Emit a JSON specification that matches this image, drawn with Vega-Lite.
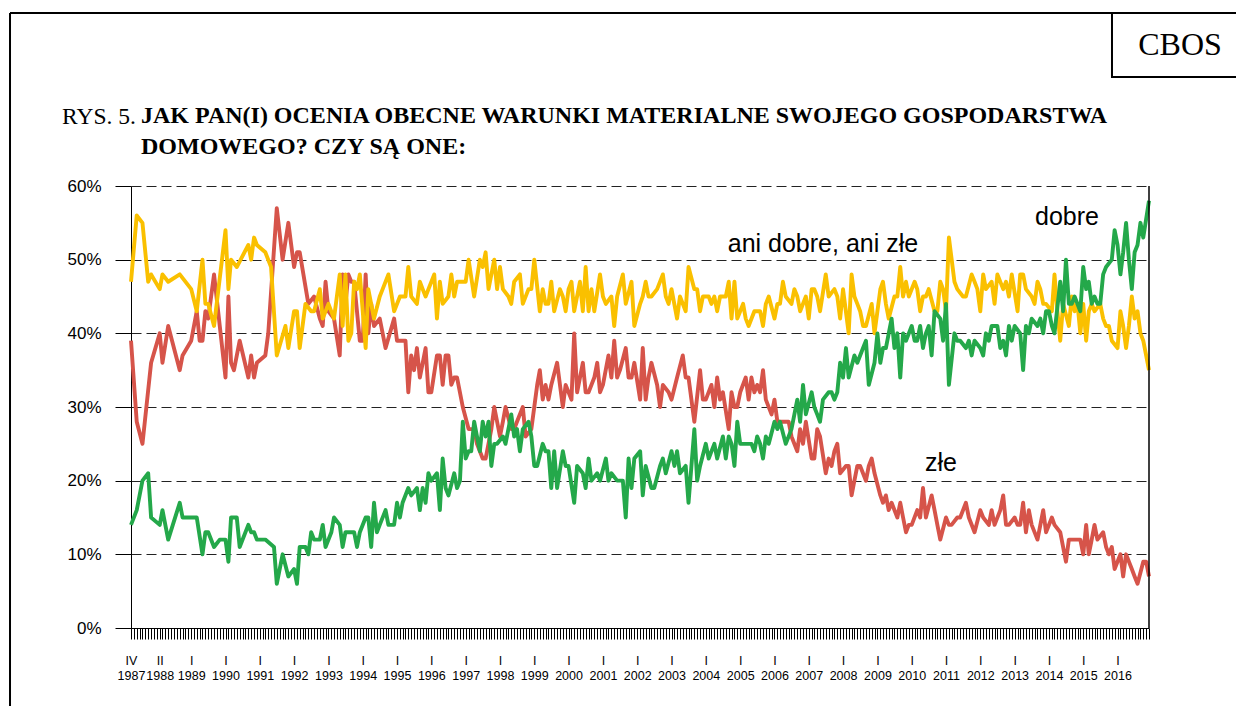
{
  "$schema": "https://vega.github.io/schema/vega-lite/v6.json",
  "width": 1018,
  "height": 442,
  "autosize": {"type": "none"},
  "padding": {"left": 131, "top": 186, "right": 87, "bottom": 78},
  "background": "white",
  "title": {
    "text": ["JAK PAN(I) OCENIA OBECNE WARUNKI MATERIALNE SWOJEGO GOSPODARSTWA", "DOMOWEGO? CZY SĄ ONE:"],
    "anchor": "start",
    "frame": "group",
    "dx": 10,
    "offset": -147,
    "font": "Liberation Serif",
    "fontSize": 24,
    "fontWeight": "bold",
    "color": "black",
    "lineHeight": 31
  },
  "config": {"view": {"stroke": null}, "font": "Liberation Sans"},
  "data": {"values": [
    {"date":"1987-04","series":"złe","value":39},{"date":"1987-06","series":"złe","value":28},{"date":"1987-08","series":"złe","value":25},{"date":"1987-11","series":"złe","value":36},{"date":"1988-02","series":"złe","value":40},{"date":"1988-03","series":"złe","value":36},{"date":"1988-05","series":"złe","value":41},{"date":"1988-09","series":"złe","value":35},{"date":"1988-10","series":"złe","value":37},
    {"date":"1989-01","series":"złe","value":39},{"date":"1989-03","series":"złe","value":43},{"date":"1989-04","series":"złe","value":39},{"date":"1989-05","series":"złe","value":39},{"date":"1989-06","series":"złe","value":43},{"date":"1989-07","series":"złe","value":42},{"date":"1989-09","series":"złe","value":48},{"date":"1989-11","series":"złe","value":41},
    {"date":"1990-01","series":"złe","value":34},{"date":"1990-02","series":"złe","value":45},{"date":"1990-03","series":"złe","value":36},{"date":"1990-04","series":"złe","value":35},{"date":"1990-06","series":"złe","value":39},{"date":"1990-09","series":"złe","value":34},{"date":"1990-10","series":"złe","value":37},{"date":"1990-11","series":"złe","value":34},{"date":"1990-12","series":"złe","value":36},
    {"date":"1991-03","series":"złe","value":37},{"date":"1991-04","series":"złe","value":40},{"date":"1991-07","series":"złe","value":57},{"date":"1991-09","series":"złe","value":50},{"date":"1991-11","series":"złe","value":55},
    {"date":"1992-01","series":"złe","value":49},{"date":"1992-02","series":"złe","value":51},{"date":"1992-03","series":"złe","value":51},{"date":"1992-06","series":"złe","value":44},{"date":"1992-08","series":"złe","value":45},{"date":"1992-10","series":"złe","value":42},{"date":"1992-11","series":"złe","value":41},{"date":"1992-12","series":"złe","value":47},
    {"date":"1993-01","series":"złe","value":43},{"date":"1993-03","series":"złe","value":42},{"date":"1993-05","series":"złe","value":37},{"date":"1993-06","series":"złe","value":48},{"date":"1993-07","series":"złe","value":44},{"date":"1993-08","series":"złe","value":48},{"date":"1993-09","series":"złe","value":47},{"date":"1993-10","series":"złe","value":47},{"date":"1993-12","series":"złe","value":39},
    {"date":"1994-01","series":"złe","value":39},{"date":"1994-02","series":"złe","value":48},{"date":"1994-03","series":"złe","value":40},{"date":"1994-04","series":"złe","value":44},{"date":"1994-05","series":"złe","value":41},{"date":"1994-07","series":"złe","value":42},{"date":"1994-09","series":"złe","value":38},{"date":"1994-12","series":"złe","value":42},
    {"date":"1995-01","series":"złe","value":39},{"date":"1995-04","series":"złe","value":39},{"date":"1995-05","series":"złe","value":32},{"date":"1995-06","series":"złe","value":37},{"date":"1995-07","series":"złe","value":35},{"date":"1995-08","series":"złe","value":38},{"date":"1995-09","series":"złe","value":34},{"date":"1995-11","series":"złe","value":38},{"date":"1995-12","series":"złe","value":32},
    {"date":"1996-01","series":"złe","value":32},{"date":"1996-03","series":"złe","value":37},{"date":"1996-04","series":"złe","value":37},{"date":"1996-05","series":"złe","value":33},{"date":"1996-06","series":"złe","value":37},{"date":"1996-07","series":"złe","value":37},{"date":"1996-08","series":"złe","value":33},{"date":"1996-09","series":"złe","value":34},{"date":"1996-10","series":"złe","value":34},{"date":"1996-12","series":"złe","value":30},
    {"date":"1997-02","series":"złe","value":27},{"date":"1997-03","series":"złe","value":27},{"date":"1997-04","series":"złe","value":27},{"date":"1997-05","series":"złe","value":25},{"date":"1997-07","series":"złe","value":23},{"date":"1997-08","series":"złe","value":23},{"date":"1997-10","series":"złe","value":27},{"date":"1997-11","series":"złe","value":30},
    {"date":"1998-01","series":"złe","value":26},{"date":"1998-02","series":"złe","value":28},{"date":"1998-03","series":"złe","value":30},{"date":"1998-05","series":"złe","value":27},{"date":"1998-06","series":"złe","value":27},{"date":"1998-07","series":"złe","value":28},{"date":"1998-09","series":"złe","value":30},{"date":"1998-10","series":"złe","value":26},{"date":"1998-12","series":"złe","value":27},
    {"date":"1999-01","series":"złe","value":30},{"date":"1999-02","series":"złe","value":33},{"date":"1999-03","series":"złe","value":35},{"date":"1999-04","series":"złe","value":31},{"date":"1999-05","series":"złe","value":33},{"date":"1999-06","series":"złe","value":31},{"date":"1999-07","series":"złe","value":33},{"date":"1999-09","series":"złe","value":36},{"date":"1999-11","series":"złe","value":30},{"date":"1999-12","series":"złe","value":33},
    {"date":"2000-01","series":"złe","value":32},{"date":"2000-02","series":"złe","value":31},{"date":"2000-03","series":"złe","value":40},{"date":"2000-04","series":"złe","value":32},{"date":"2000-06","series":"złe","value":36},{"date":"2000-07","series":"złe","value":32},{"date":"2000-08","series":"złe","value":32},{"date":"2000-10","series":"złe","value":34},{"date":"2000-11","series":"złe","value":36},{"date":"2000-12","series":"złe","value":32},
    {"date":"2001-01","series":"złe","value":33},{"date":"2001-03","series":"złe","value":37},{"date":"2001-04","series":"złe","value":34},{"date":"2001-05","series":"złe","value":39},{"date":"2001-06","series":"złe","value":34},{"date":"2001-07","series":"złe","value":35},{"date":"2001-09","series":"złe","value":38},{"date":"2001-10","series":"złe","value":34},{"date":"2001-11","series":"złe","value":34},{"date":"2001-12","series":"złe","value":36},
    {"date":"2002-02","series":"złe","value":31},{"date":"2002-03","series":"złe","value":38},{"date":"2002-04","series":"złe","value":31},{"date":"2002-05","series":"złe","value":34},{"date":"2002-06","series":"złe","value":36},{"date":"2002-08","series":"złe","value":33},{"date":"2002-09","series":"złe","value":30},{"date":"2002-10","series":"złe","value":33},{"date":"2002-12","series":"złe","value":32},
    {"date":"2003-01","series":"złe","value":31},{"date":"2003-03","series":"złe","value":34},{"date":"2003-05","series":"złe","value":37},{"date":"2003-06","series":"złe","value":34},{"date":"2003-07","series":"złe","value":34},{"date":"2003-09","series":"złe","value":28},{"date":"2003-11","series":"złe","value":35},{"date":"2003-12","series":"złe","value":31},
    {"date":"2004-01","series":"złe","value":31},{"date":"2004-03","series":"złe","value":33},{"date":"2004-04","series":"złe","value":30},{"date":"2004-05","series":"złe","value":34},{"date":"2004-06","series":"złe","value":31},{"date":"2004-07","series":"złe","value":32},{"date":"2004-09","series":"złe","value":27},{"date":"2004-10","series":"złe","value":32},{"date":"2004-11","series":"złe","value":30},{"date":"2004-12","series":"złe","value":30},
    {"date":"2005-01","series":"złe","value":32},{"date":"2005-03","series":"złe","value":34},{"date":"2005-04","series":"złe","value":31},{"date":"2005-05","series":"złe","value":34},{"date":"2005-06","series":"złe","value":32},{"date":"2005-07","series":"złe","value":33},{"date":"2005-08","series":"złe","value":32},{"date":"2005-09","series":"złe","value":35},{"date":"2005-10","series":"złe","value":31},{"date":"2005-12","series":"złe","value":29},
    {"date":"2006-01","series":"złe","value":31},{"date":"2006-02","series":"złe","value":28},{"date":"2006-03","series":"złe","value":28},{"date":"2006-06","series":"złe","value":28},{"date":"2006-07","series":"złe","value":26},{"date":"2006-09","series":"złe","value":24},{"date":"2006-10","series":"złe","value":27},{"date":"2006-11","series":"złe","value":25},{"date":"2006-12","series":"złe","value":28},
    {"date":"2007-02","series":"złe","value":23},{"date":"2007-03","series":"złe","value":23},{"date":"2007-04","series":"złe","value":27},{"date":"2007-05","series":"złe","value":26},{"date":"2007-07","series":"złe","value":21},{"date":"2007-08","series":"złe","value":23},{"date":"2007-09","series":"złe","value":22},{"date":"2007-10","series":"złe","value":24},{"date":"2007-11","series":"złe","value":25},{"date":"2007-12","series":"złe","value":21},
    {"date":"2008-02","series":"złe","value":22},{"date":"2008-03","series":"złe","value":22},{"date":"2008-04","series":"złe","value":18},{"date":"2008-05","series":"złe","value":20},{"date":"2008-06","series":"złe","value":22},{"date":"2008-07","series":"złe","value":22},{"date":"2008-09","series":"złe","value":20},{"date":"2008-10","series":"złe","value":22},{"date":"2008-11","series":"złe","value":23},{"date":"2008-12","series":"złe","value":21},
    {"date":"2009-02","series":"złe","value":18},{"date":"2009-03","series":"złe","value":17},{"date":"2009-04","series":"złe","value":18},{"date":"2009-05","series":"złe","value":16},{"date":"2009-06","series":"złe","value":17},{"date":"2009-08","series":"złe","value":15},{"date":"2009-09","series":"złe","value":17},{"date":"2009-10","series":"złe","value":15},{"date":"2009-11","series":"złe","value":13},{"date":"2009-12","series":"złe","value":14},
    {"date":"2010-01","series":"złe","value":14},{"date":"2010-03","series":"złe","value":16},{"date":"2010-04","series":"złe","value":15},{"date":"2010-05","series":"złe","value":19},{"date":"2010-06","series":"złe","value":15},{"date":"2010-08","series":"złe","value":18},{"date":"2010-09","series":"złe","value":16},{"date":"2010-10","series":"złe","value":14},{"date":"2010-11","series":"złe","value":12},
    {"date":"2011-01","series":"złe","value":15},{"date":"2011-02","series":"złe","value":14},{"date":"2011-03","series":"złe","value":14},{"date":"2011-05","series":"złe","value":15},{"date":"2011-06","series":"złe","value":15},{"date":"2011-08","series":"złe","value":17},{"date":"2011-09","series":"złe","value":15},{"date":"2011-11","series":"złe","value":13},
    {"date":"2012-01","series":"złe","value":16},{"date":"2012-02","series":"złe","value":15},{"date":"2012-04","series":"złe","value":14},{"date":"2012-05","series":"złe","value":16},{"date":"2012-06","series":"złe","value":14},{"date":"2012-08","series":"złe","value":16},{"date":"2012-09","series":"złe","value":18},{"date":"2012-10","series":"złe","value":14},{"date":"2012-11","series":"złe","value":14},
    {"date":"2013-01","series":"złe","value":15},{"date":"2013-02","series":"złe","value":14},{"date":"2013-03","series":"złe","value":14},{"date":"2013-04","series":"złe","value":17},{"date":"2013-05","series":"złe","value":13},{"date":"2013-06","series":"złe","value":16},{"date":"2013-07","series":"złe","value":14},{"date":"2013-09","series":"złe","value":12},{"date":"2013-11","series":"złe","value":16},{"date":"2013-12","series":"złe","value":13},
    {"date":"2014-02","series":"złe","value":15},{"date":"2014-03","series":"złe","value":14},{"date":"2014-05","series":"złe","value":13},{"date":"2014-07","series":"złe","value":9},{"date":"2014-08","series":"złe","value":12},{"date":"2014-10","series":"złe","value":12},{"date":"2014-12","series":"złe","value":12},
    {"date":"2015-01","series":"złe","value":10},{"date":"2015-02","series":"złe","value":14},{"date":"2015-03","series":"złe","value":10},{"date":"2015-04","series":"złe","value":12},{"date":"2015-05","series":"złe","value":14},{"date":"2015-06","series":"złe","value":12},{"date":"2015-08","series":"złe","value":13},{"date":"2015-09","series":"złe","value":11},{"date":"2015-10","series":"złe","value":10},{"date":"2015-11","series":"złe","value":11},{"date":"2015-12","series":"złe","value":8},
    {"date":"2016-02","series":"złe","value":10},{"date":"2016-03","series":"złe","value":7},{"date":"2016-04","series":"złe","value":10},{"date":"2016-06","series":"złe","value":8},{"date":"2016-07","series":"złe","value":7},{"date":"2016-08","series":"złe","value":6},{"date":"2016-10","series":"złe","value":9},{"date":"2016-11","series":"złe","value":9},{"date":"2016-12","series":"złe","value":7},

    {"date":"1987-04","series":"ani dobre, ani złe","value":47},{"date":"1987-06","series":"ani dobre, ani złe","value":56},{"date":"1987-08","series":"ani dobre, ani złe","value":55},{"date":"1987-10","series":"ani dobre, ani złe","value":47},{"date":"1987-11","series":"ani dobre, ani złe","value":48},{"date":"1988-02","series":"ani dobre, ani złe","value":46},{"date":"1988-03","series":"ani dobre, ani złe","value":48},{"date":"1988-05","series":"ani dobre, ani złe","value":47},{"date":"1988-09","series":"ani dobre, ani złe","value":48},
    {"date":"1989-01","series":"ani dobre, ani złe","value":46},{"date":"1989-03","series":"ani dobre, ani złe","value":43},{"date":"1989-05","series":"ani dobre, ani złe","value":50},{"date":"1989-06","series":"ani dobre, ani złe","value":44},{"date":"1989-07","series":"ani dobre, ani złe","value":44},{"date":"1989-09","series":"ani dobre, ani złe","value":41},
    {"date":"1990-01","series":"ani dobre, ani złe","value":54},{"date":"1990-02","series":"ani dobre, ani złe","value":46},{"date":"1990-03","series":"ani dobre, ani złe","value":50},{"date":"1990-05","series":"ani dobre, ani złe","value":49},{"date":"1990-09","series":"ani dobre, ani złe","value":52},{"date":"1990-10","series":"ani dobre, ani złe","value":50},{"date":"1990-11","series":"ani dobre, ani złe","value":53},{"date":"1990-12","series":"ani dobre, ani złe","value":52},
    {"date":"1991-03","series":"ani dobre, ani złe","value":51},{"date":"1991-05","series":"ani dobre, ani złe","value":49},{"date":"1991-07","series":"ani dobre, ani złe","value":37},{"date":"1991-10","series":"ani dobre, ani złe","value":41},{"date":"1991-11","series":"ani dobre, ani złe","value":38},
    {"date":"1992-01","series":"ani dobre, ani złe","value":43},{"date":"1992-02","series":"ani dobre, ani złe","value":43},{"date":"1992-03","series":"ani dobre, ani złe","value":38},{"date":"1992-05","series":"ani dobre, ani złe","value":44},{"date":"1992-07","series":"ani dobre, ani złe","value":43},{"date":"1992-08","series":"ani dobre, ani złe","value":43},{"date":"1992-10","series":"ani dobre, ani złe","value":46},{"date":"1992-11","series":"ani dobre, ani złe","value":42},
    {"date":"1993-01","series":"ani dobre, ani złe","value":44},{"date":"1993-03","series":"ani dobre, ani złe","value":42},{"date":"1993-05","series":"ani dobre, ani złe","value":48},{"date":"1993-06","series":"ani dobre, ani złe","value":41},{"date":"1993-07","series":"ani dobre, ani złe","value":48},{"date":"1993-08","series":"ani dobre, ani złe","value":39},{"date":"1993-09","series":"ani dobre, ani złe","value":40},{"date":"1993-10","series":"ani dobre, ani złe","value":47},{"date":"1993-11","series":"ani dobre, ani złe","value":46},{"date":"1993-12","series":"ani dobre, ani złe","value":48},
    {"date":"1994-02","series":"ani dobre, ani złe","value":38},{"date":"1994-03","series":"ani dobre, ani złe","value":46},{"date":"1994-05","series":"ani dobre, ani złe","value":42},{"date":"1994-07","series":"ani dobre, ani złe","value":45},{"date":"1994-08","series":"ani dobre, ani złe","value":46},{"date":"1994-10","series":"ani dobre, ani złe","value":48},{"date":"1994-12","series":"ani dobre, ani złe","value":43},
    {"date":"1995-02","series":"ani dobre, ani złe","value":45},{"date":"1995-04","series":"ani dobre, ani złe","value":45},{"date":"1995-05","series":"ani dobre, ani złe","value":49},{"date":"1995-06","series":"ani dobre, ani złe","value":45},{"date":"1995-08","series":"ani dobre, ani złe","value":44},{"date":"1995-09","series":"ani dobre, ani złe","value":47},{"date":"1995-10","series":"ani dobre, ani złe","value":46},{"date":"1995-11","series":"ani dobre, ani złe","value":45},
    {"date":"1996-02","series":"ani dobre, ani złe","value":48},{"date":"1996-03","series":"ani dobre, ani złe","value":42},{"date":"1996-04","series":"ani dobre, ani złe","value":47},{"date":"1996-05","series":"ani dobre, ani złe","value":44},{"date":"1996-07","series":"ani dobre, ani złe","value":45},{"date":"1996-08","series":"ani dobre, ani złe","value":48},{"date":"1996-09","series":"ani dobre, ani złe","value":45},{"date":"1996-10","series":"ani dobre, ani złe","value":47},
    {"date":"1997-01","series":"ani dobre, ani złe","value":47},{"date":"1997-02","series":"ani dobre, ani złe","value":50},{"date":"1997-04","series":"ani dobre, ani złe","value":45},{"date":"1997-06","series":"ani dobre, ani złe","value":50},{"date":"1997-07","series":"ani dobre, ani złe","value":49},{"date":"1997-08","series":"ani dobre, ani złe","value":51},{"date":"1997-09","series":"ani dobre, ani złe","value":46},{"date":"1997-11","series":"ani dobre, ani złe","value":50},{"date":"1997-12","series":"ani dobre, ani złe","value":46},
    {"date":"1998-01","series":"ani dobre, ani złe","value":49},{"date":"1998-02","series":"ani dobre, ani złe","value":46},{"date":"1998-04","series":"ani dobre, ani złe","value":45},{"date":"1998-05","series":"ani dobre, ani złe","value":44},{"date":"1998-06","series":"ani dobre, ani złe","value":47},{"date":"1998-08","series":"ani dobre, ani złe","value":48},{"date":"1998-09","series":"ani dobre, ani złe","value":44},{"date":"1998-11","series":"ani dobre, ani złe","value":46},{"date":"1998-12","series":"ani dobre, ani złe","value":46},
    {"date":"1999-01","series":"ani dobre, ani złe","value":50},{"date":"1999-03","series":"ani dobre, ani złe","value":43},{"date":"1999-04","series":"ani dobre, ani złe","value":46},{"date":"1999-05","series":"ani dobre, ani złe","value":44},{"date":"1999-06","series":"ani dobre, ani złe","value":44},{"date":"1999-07","series":"ani dobre, ani złe","value":47},{"date":"1999-08","series":"ani dobre, ani złe","value":43},{"date":"1999-10","series":"ani dobre, ani złe","value":46},{"date":"1999-11","series":"ani dobre, ani złe","value":45},{"date":"1999-12","series":"ani dobre, ani złe","value":43},
    {"date":"2000-01","series":"ani dobre, ani złe","value":46},{"date":"2000-02","series":"ani dobre, ani złe","value":47},{"date":"2000-03","series":"ani dobre, ani złe","value":43},{"date":"2000-05","series":"ani dobre, ani złe","value":47},{"date":"2000-06","series":"ani dobre, ani złe","value":43},{"date":"2000-07","series":"ani dobre, ani złe","value":49},{"date":"2000-08","series":"ani dobre, ani złe","value":43},{"date":"2000-09","series":"ani dobre, ani złe","value":46},{"date":"2000-10","series":"ani dobre, ani złe","value":43},{"date":"2000-12","series":"ani dobre, ani złe","value":48},
    {"date":"2001-01","series":"ani dobre, ani złe","value":45},{"date":"2001-02","series":"ani dobre, ani złe","value":44},{"date":"2001-04","series":"ani dobre, ani złe","value":45},{"date":"2001-05","series":"ani dobre, ani złe","value":41},{"date":"2001-06","series":"ani dobre, ani złe","value":45},{"date":"2001-08","series":"ani dobre, ani złe","value":48},{"date":"2001-09","series":"ani dobre, ani złe","value":44},{"date":"2001-11","series":"ani dobre, ani złe","value":47},{"date":"2001-12","series":"ani dobre, ani złe","value":41},
    {"date":"2002-02","series":"ani dobre, ani złe","value":44},{"date":"2002-03","series":"ani dobre, ani złe","value":45},{"date":"2002-04","series":"ani dobre, ani złe","value":47},{"date":"2002-05","series":"ani dobre, ani złe","value":45},{"date":"2002-06","series":"ani dobre, ani złe","value":45},{"date":"2002-08","series":"ani dobre, ani złe","value":46},{"date":"2002-10","series":"ani dobre, ani złe","value":48},{"date":"2002-11","series":"ani dobre, ani złe","value":45},{"date":"2002-12","series":"ani dobre, ani złe","value":44},
    {"date":"2003-01","series":"ani dobre, ani złe","value":46},{"date":"2003-03","series":"ani dobre, ani złe","value":42},{"date":"2003-04","series":"ani dobre, ani złe","value":45},{"date":"2003-06","series":"ani dobre, ani złe","value":43},{"date":"2003-07","series":"ani dobre, ani złe","value":49},{"date":"2003-09","series":"ani dobre, ani złe","value":46},{"date":"2003-10","series":"ani dobre, ani złe","value":46},{"date":"2003-11","series":"ani dobre, ani złe","value":43},{"date":"2003-12","series":"ani dobre, ani złe","value":45},
    {"date":"2004-02","series":"ani dobre, ani złe","value":45},{"date":"2004-03","series":"ani dobre, ani złe","value":44},{"date":"2004-04","series":"ani dobre, ani złe","value":45},{"date":"2004-05","series":"ani dobre, ani złe","value":43},{"date":"2004-06","series":"ani dobre, ani złe","value":45},{"date":"2004-08","series":"ani dobre, ani złe","value":45},{"date":"2004-09","series":"ani dobre, ani złe","value":47},{"date":"2004-10","series":"ani dobre, ani złe","value":42},{"date":"2004-11","series":"ani dobre, ani złe","value":47},{"date":"2004-12","series":"ani dobre, ani złe","value":42},
    {"date":"2005-01","series":"ani dobre, ani złe","value":43},{"date":"2005-02","series":"ani dobre, ani złe","value":44},{"date":"2005-03","series":"ani dobre, ani złe","value":42},{"date":"2005-04","series":"ani dobre, ani złe","value":41},{"date":"2005-06","series":"ani dobre, ani złe","value":43},{"date":"2005-07","series":"ani dobre, ani złe","value":43},{"date":"2005-08","series":"ani dobre, ani złe","value":43},{"date":"2005-09","series":"ani dobre, ani złe","value":41},{"date":"2005-10","series":"ani dobre, ani złe","value":44},{"date":"2005-11","series":"ani dobre, ani złe","value":45},
    {"date":"2006-01","series":"ani dobre, ani złe","value":42},{"date":"2006-02","series":"ani dobre, ani złe","value":44},{"date":"2006-03","series":"ani dobre, ani złe","value":44},{"date":"2006-04","series":"ani dobre, ani złe","value":47},{"date":"2006-05","series":"ani dobre, ani złe","value":45},{"date":"2006-07","series":"ani dobre, ani złe","value":44},{"date":"2006-08","series":"ani dobre, ani złe","value":46},{"date":"2006-09","series":"ani dobre, ani złe","value":45},{"date":"2006-10","series":"ani dobre, ani złe","value":43},{"date":"2006-12","series":"ani dobre, ani złe","value":45},
    {"date":"2007-01","series":"ani dobre, ani złe","value":42},{"date":"2007-02","series":"ani dobre, ani złe","value":46},{"date":"2007-03","series":"ani dobre, ani złe","value":46},{"date":"2007-04","series":"ani dobre, ani złe","value":45},{"date":"2007-05","series":"ani dobre, ani złe","value":43},{"date":"2007-07","series":"ani dobre, ani złe","value":48},{"date":"2007-08","series":"ani dobre, ani złe","value":45},{"date":"2007-10","series":"ani dobre, ani złe","value":46},{"date":"2007-11","series":"ani dobre, ani złe","value":45},{"date":"2007-12","series":"ani dobre, ani złe","value":42},
    {"date":"2008-01","series":"ani dobre, ani złe","value":46},{"date":"2008-03","series":"ani dobre, ani złe","value":40},{"date":"2008-04","series":"ani dobre, ani złe","value":48},{"date":"2008-05","series":"ani dobre, ani złe","value":45},{"date":"2008-06","series":"ani dobre, ani złe","value":44},{"date":"2008-07","series":"ani dobre, ani złe","value":43},{"date":"2008-08","series":"ani dobre, ani złe","value":41},{"date":"2008-09","series":"ani dobre, ani złe","value":41},{"date":"2008-11","series":"ani dobre, ani złe","value":44},{"date":"2008-12","series":"ani dobre, ani złe","value":40},
    {"date":"2009-01","series":"ani dobre, ani złe","value":43},{"date":"2009-02","series":"ani dobre, ani złe","value":46},{"date":"2009-03","series":"ani dobre, ani złe","value":47},{"date":"2009-04","series":"ani dobre, ani złe","value":44},{"date":"2009-05","series":"ani dobre, ani złe","value":42},{"date":"2009-07","series":"ani dobre, ani złe","value":45},{"date":"2009-08","series":"ani dobre, ani złe","value":45},{"date":"2009-09","series":"ani dobre, ani złe","value":49},{"date":"2009-10","series":"ani dobre, ani złe","value":45},{"date":"2009-11","series":"ani dobre, ani złe","value":47},{"date":"2009-12","series":"ani dobre, ani złe","value":45},
    {"date":"2010-02","series":"ani dobre, ani złe","value":47},{"date":"2010-03","series":"ani dobre, ani złe","value":46},{"date":"2010-04","series":"ani dobre, ani złe","value":43},{"date":"2010-05","series":"ani dobre, ani złe","value":45},{"date":"2010-06","series":"ani dobre, ani złe","value":45},{"date":"2010-07","series":"ani dobre, ani złe","value":46},{"date":"2010-09","series":"ani dobre, ani złe","value":43},{"date":"2010-10","series":"ani dobre, ani złe","value":43},{"date":"2010-11","series":"ani dobre, ani złe","value":47},{"date":"2010-12","series":"ani dobre, ani złe","value":46},
    {"date":"2011-01","series":"ani dobre, ani złe","value":43},{"date":"2011-02","series":"ani dobre, ani złe","value":53},{"date":"2011-04","series":"ani dobre, ani złe","value":47},{"date":"2011-05","series":"ani dobre, ani złe","value":46},{"date":"2011-07","series":"ani dobre, ani złe","value":45},{"date":"2011-08","series":"ani dobre, ani złe","value":45},{"date":"2011-10","series":"ani dobre, ani złe","value":48},{"date":"2011-11","series":"ani dobre, ani złe","value":47},{"date":"2011-12","series":"ani dobre, ani złe","value":46},
    {"date":"2012-01","series":"ani dobre, ani złe","value":43},{"date":"2012-02","series":"ani dobre, ani złe","value":48},{"date":"2012-03","series":"ani dobre, ani złe","value":46},{"date":"2012-05","series":"ani dobre, ani złe","value":47},{"date":"2012-06","series":"ani dobre, ani złe","value":44},{"date":"2012-07","series":"ani dobre, ani złe","value":48},{"date":"2012-09","series":"ani dobre, ani złe","value":46},{"date":"2012-10","series":"ani dobre, ani złe","value":47},{"date":"2012-11","series":"ani dobre, ani złe","value":45},{"date":"2012-12","series":"ani dobre, ani złe","value":48},
    {"date":"2013-02","series":"ani dobre, ani złe","value":43},{"date":"2013-03","series":"ani dobre, ani złe","value":48},{"date":"2013-04","series":"ani dobre, ani złe","value":48},{"date":"2013-05","series":"ani dobre, ani złe","value":46},{"date":"2013-07","series":"ani dobre, ani złe","value":45},{"date":"2013-08","series":"ani dobre, ani złe","value":44},{"date":"2013-09","series":"ani dobre, ani złe","value":47},{"date":"2013-10","series":"ani dobre, ani złe","value":46},{"date":"2013-11","series":"ani dobre, ani złe","value":44},{"date":"2013-12","series":"ani dobre, ani złe","value":44},
    {"date":"2014-02","series":"ani dobre, ani złe","value":43},{"date":"2014-03","series":"ani dobre, ani złe","value":48},{"date":"2014-04","series":"ani dobre, ani złe","value":43},{"date":"2014-05","series":"ani dobre, ani złe","value":39},{"date":"2014-06","series":"ani dobre, ani złe","value":44},{"date":"2014-08","series":"ani dobre, ani złe","value":41},{"date":"2014-09","series":"ani dobre, ani złe","value":45},{"date":"2014-10","series":"ani dobre, ani złe","value":43},{"date":"2014-11","series":"ani dobre, ani złe","value":44},{"date":"2014-12","series":"ani dobre, ani złe","value":40},
    {"date":"2015-01","series":"ani dobre, ani złe","value":44},{"date":"2015-02","series":"ani dobre, ani złe","value":39},{"date":"2015-03","series":"ani dobre, ani złe","value":43},{"date":"2015-04","series":"ani dobre, ani złe","value":44},{"date":"2015-05","series":"ani dobre, ani złe","value":43},{"date":"2015-07","series":"ani dobre, ani złe","value":44},{"date":"2015-08","series":"ani dobre, ani złe","value":42},{"date":"2015-09","series":"ani dobre, ani złe","value":41},{"date":"2015-10","series":"ani dobre, ani złe","value":41},{"date":"2015-11","series":"ani dobre, ani złe","value":39},
    {"date":"2016-01","series":"ani dobre, ani złe","value":38},{"date":"2016-02","series":"ani dobre, ani złe","value":43},{"date":"2016-03","series":"ani dobre, ani złe","value":41},{"date":"2016-04","series":"ani dobre, ani złe","value":38},{"date":"2016-05","series":"ani dobre, ani złe","value":41},{"date":"2016-06","series":"ani dobre, ani złe","value":45},{"date":"2016-07","series":"ani dobre, ani złe","value":42},{"date":"2016-08","series":"ani dobre, ani złe","value":43},{"date":"2016-09","series":"ani dobre, ani złe","value":40},{"date":"2016-10","series":"ani dobre, ani złe","value":39},{"date":"2016-12","series":"ani dobre, ani złe","value":35},

    {"date":"1987-04","series":"dobre","value":14},{"date":"1987-06","series":"dobre","value":16},{"date":"1987-08","series":"dobre","value":20},{"date":"1987-10","series":"dobre","value":21},{"date":"1987-11","series":"dobre","value":15},{"date":"1988-02","series":"dobre","value":14},{"date":"1988-03","series":"dobre","value":16},{"date":"1988-05","series":"dobre","value":12},{"date":"1988-09","series":"dobre","value":17},{"date":"1988-10","series":"dobre","value":15},
    {"date":"1989-03","series":"dobre","value":15},{"date":"1989-05","series":"dobre","value":10},{"date":"1989-06","series":"dobre","value":13},{"date":"1989-07","series":"dobre","value":13},{"date":"1989-09","series":"dobre","value":11},{"date":"1989-11","series":"dobre","value":12},
    {"date":"1990-01","series":"dobre","value":12},{"date":"1990-02","series":"dobre","value":9},{"date":"1990-03","series":"dobre","value":15},{"date":"1990-05","series":"dobre","value":15},{"date":"1990-06","series":"dobre","value":11},{"date":"1990-09","series":"dobre","value":14},{"date":"1990-10","series":"dobre","value":13},{"date":"1990-11","series":"dobre","value":13},{"date":"1990-12","series":"dobre","value":12},
    {"date":"1991-03","series":"dobre","value":12},{"date":"1991-06","series":"dobre","value":11},{"date":"1991-07","series":"dobre","value":6},{"date":"1991-09","series":"dobre","value":10},{"date":"1991-11","series":"dobre","value":7},
    {"date":"1992-01","series":"dobre","value":8},{"date":"1992-02","series":"dobre","value":6},{"date":"1992-03","series":"dobre","value":11},{"date":"1992-05","series":"dobre","value":11},{"date":"1992-06","series":"dobre","value":10},{"date":"1992-07","series":"dobre","value":13},{"date":"1992-08","series":"dobre","value":12},{"date":"1992-10","series":"dobre","value":12},{"date":"1992-11","series":"dobre","value":14},{"date":"1992-12","series":"dobre","value":11},
    {"date":"1993-02","series":"dobre","value":13},{"date":"1993-03","series":"dobre","value":15},{"date":"1993-05","series":"dobre","value":14},{"date":"1993-06","series":"dobre","value":11},{"date":"1993-07","series":"dobre","value":13},{"date":"1993-10","series":"dobre","value":13},{"date":"1993-11","series":"dobre","value":11},{"date":"1993-12","series":"dobre","value":13},
    {"date":"1994-02","series":"dobre","value":15},{"date":"1994-03","series":"dobre","value":15},{"date":"1994-04","series":"dobre","value":11},{"date":"1994-05","series":"dobre","value":17},{"date":"1994-06","series":"dobre","value":13},{"date":"1994-07","series":"dobre","value":14},{"date":"1994-09","series":"dobre","value":16},{"date":"1994-10","series":"dobre","value":14},{"date":"1994-12","series":"dobre","value":14},
    {"date":"1995-01","series":"dobre","value":17},{"date":"1995-02","series":"dobre","value":15},{"date":"1995-03","series":"dobre","value":17},{"date":"1995-05","series":"dobre","value":19},{"date":"1995-06","series":"dobre","value":18},{"date":"1995-08","series":"dobre","value":19},{"date":"1995-09","series":"dobre","value":16},{"date":"1995-10","series":"dobre","value":19},{"date":"1995-11","series":"dobre","value":17},{"date":"1995-12","series":"dobre","value":21},
    {"date":"1996-01","series":"dobre","value":20},{"date":"1996-03","series":"dobre","value":21},{"date":"1996-04","series":"dobre","value":16},{"date":"1996-05","series":"dobre","value":23},{"date":"1996-06","series":"dobre","value":19},{"date":"1996-07","series":"dobre","value":18},{"date":"1996-09","series":"dobre","value":21},{"date":"1996-10","series":"dobre","value":19},{"date":"1996-11","series":"dobre","value":20},{"date":"1996-12","series":"dobre","value":28},
    {"date":"1997-01","series":"dobre","value":23},{"date":"1997-02","series":"dobre","value":24},{"date":"1997-03","series":"dobre","value":24},{"date":"1997-04","series":"dobre","value":28},{"date":"1997-05","series":"dobre","value":26},{"date":"1997-06","series":"dobre","value":24},{"date":"1997-07","series":"dobre","value":28},{"date":"1997-08","series":"dobre","value":26},{"date":"1997-09","series":"dobre","value":28},{"date":"1997-10","series":"dobre","value":22},{"date":"1997-11","series":"dobre","value":25},{"date":"1997-12","series":"dobre","value":25},
    {"date":"1998-02","series":"dobre","value":26},{"date":"1998-03","series":"dobre","value":25},{"date":"1998-05","series":"dobre","value":29},{"date":"1998-06","series":"dobre","value":26},{"date":"1998-07","series":"dobre","value":27},{"date":"1998-08","series":"dobre","value":24},{"date":"1998-09","series":"dobre","value":27},{"date":"1998-11","series":"dobre","value":28},{"date":"1998-12","series":"dobre","value":26},
    {"date":"1999-01","series":"dobre","value":22},{"date":"1999-02","series":"dobre","value":22},{"date":"1999-04","series":"dobre","value":25},{"date":"1999-05","series":"dobre","value":24},{"date":"1999-06","series":"dobre","value":24},{"date":"1999-07","series":"dobre","value":19},{"date":"1999-08","series":"dobre","value":24},{"date":"1999-09","series":"dobre","value":19},{"date":"1999-11","series":"dobre","value":24},{"date":"1999-12","series":"dobre","value":22},
    {"date":"2000-01","series":"dobre","value":22},{"date":"2000-03","series":"dobre","value":17},{"date":"2000-04","series":"dobre","value":22},{"date":"2000-06","series":"dobre","value":21},{"date":"2000-07","series":"dobre","value":19},{"date":"2000-08","series":"dobre","value":23},{"date":"2000-09","series":"dobre","value":20},{"date":"2000-11","series":"dobre","value":21},{"date":"2000-12","series":"dobre","value":20},
    {"date":"2001-02","series":"dobre","value":23},{"date":"2001-03","series":"dobre","value":20},{"date":"2001-04","series":"dobre","value":21},{"date":"2001-06","series":"dobre","value":20},{"date":"2001-08","series":"dobre","value":20},{"date":"2001-09","series":"dobre","value":15},{"date":"2001-10","series":"dobre","value":23},{"date":"2001-11","series":"dobre","value":19},{"date":"2001-12","series":"dobre","value":23},
    {"date":"2002-02","series":"dobre","value":24},{"date":"2002-03","series":"dobre","value":18},{"date":"2002-04","series":"dobre","value":22},{"date":"2002-06","series":"dobre","value":19},{"date":"2002-07","series":"dobre","value":19},{"date":"2002-09","series":"dobre","value":22},{"date":"2002-10","series":"dobre","value":23},{"date":"2002-11","series":"dobre","value":21},
    {"date":"2003-01","series":"dobre","value":24},{"date":"2003-02","series":"dobre","value":22},{"date":"2003-03","series":"dobre","value":24},{"date":"2003-04","series":"dobre","value":21},{"date":"2003-06","series":"dobre","value":22},{"date":"2003-07","series":"dobre","value":17},{"date":"2003-09","series":"dobre","value":27},{"date":"2003-10","series":"dobre","value":20},{"date":"2003-11","series":"dobre","value":22},
    {"date":"2004-01","series":"dobre","value":25},{"date":"2004-02","series":"dobre","value":23},{"date":"2004-04","series":"dobre","value":25},{"date":"2004-05","series":"dobre","value":23},{"date":"2004-07","series":"dobre","value":26},{"date":"2004-08","series":"dobre","value":23},{"date":"2004-09","series":"dobre","value":26},{"date":"2004-10","series":"dobre","value":25},{"date":"2004-11","series":"dobre","value":22},{"date":"2004-12","series":"dobre","value":28},
    {"date":"2005-01","series":"dobre","value":25},{"date":"2005-03","series":"dobre","value":25},{"date":"2005-05","series":"dobre","value":25},{"date":"2005-06","series":"dobre","value":24},{"date":"2005-07","series":"dobre","value":26},{"date":"2005-08","series":"dobre","value":25},{"date":"2005-09","series":"dobre","value":23},{"date":"2005-10","series":"dobre","value":26},{"date":"2005-11","series":"dobre","value":25},
    {"date":"2006-01","series":"dobre","value":28},{"date":"2006-02","series":"dobre","value":27},{"date":"2006-03","series":"dobre","value":28},{"date":"2006-05","series":"dobre","value":25},{"date":"2006-07","series":"dobre","value":27},{"date":"2006-08","series":"dobre","value":29},{"date":"2006-09","series":"dobre","value":31},{"date":"2006-10","series":"dobre","value":28},{"date":"2006-11","series":"dobre","value":33},{"date":"2006-12","series":"dobre","value":29},
    {"date":"2007-02","series":"dobre","value":32},{"date":"2007-03","series":"dobre","value":30},{"date":"2007-04","series":"dobre","value":29},{"date":"2007-05","series":"dobre","value":28},{"date":"2007-06","series":"dobre","value":31},{"date":"2007-08","series":"dobre","value":32},{"date":"2007-09","series":"dobre","value":32},{"date":"2007-10","series":"dobre","value":31},{"date":"2007-11","series":"dobre","value":32},{"date":"2007-12","series":"dobre","value":36},
    {"date":"2008-01","series":"dobre","value":34},{"date":"2008-02","series":"dobre","value":38},{"date":"2008-03","series":"dobre","value":34},{"date":"2008-05","series":"dobre","value":37},{"date":"2008-06","series":"dobre","value":36},{"date":"2008-07","series":"dobre","value":37},{"date":"2008-08","series":"dobre","value":38},{"date":"2008-09","series":"dobre","value":39},{"date":"2008-10","series":"dobre","value":33},{"date":"2008-12","series":"dobre","value":36},
    {"date":"2009-01","series":"dobre","value":40},{"date":"2009-02","series":"dobre","value":36},{"date":"2009-03","series":"dobre","value":38},{"date":"2009-04","series":"dobre","value":38},{"date":"2009-06","series":"dobre","value":42},{"date":"2009-07","series":"dobre","value":38},{"date":"2009-08","series":"dobre","value":40},{"date":"2009-09","series":"dobre","value":34},{"date":"2009-10","series":"dobre","value":40},{"date":"2009-11","series":"dobre","value":39},
    {"date":"2010-01","series":"dobre","value":41},{"date":"2010-02","series":"dobre","value":39},{"date":"2010-03","series":"dobre","value":39},{"date":"2010-04","series":"dobre","value":41},{"date":"2010-05","series":"dobre","value":38},{"date":"2010-06","series":"dobre","value":40},{"date":"2010-07","series":"dobre","value":41},{"date":"2010-08","series":"dobre","value":37},{"date":"2010-09","series":"dobre","value":43},{"date":"2010-11","series":"dobre","value":42},{"date":"2010-12","series":"dobre","value":39},
    {"date":"2011-01","series":"dobre","value":44},{"date":"2011-02","series":"dobre","value":33},{"date":"2011-04","series":"dobre","value":40},{"date":"2011-05","series":"dobre","value":39},{"date":"2011-06","series":"dobre","value":39},{"date":"2011-08","series":"dobre","value":38},{"date":"2011-09","series":"dobre","value":39},{"date":"2011-10","series":"dobre","value":37},{"date":"2011-11","series":"dobre","value":39},
    {"date":"2012-01","series":"dobre","value":38},{"date":"2012-02","series":"dobre","value":37},{"date":"2012-03","series":"dobre","value":40},{"date":"2012-04","series":"dobre","value":39},{"date":"2012-05","series":"dobre","value":41},{"date":"2012-07","series":"dobre","value":41},{"date":"2012-08","series":"dobre","value":38},{"date":"2012-09","series":"dobre","value":39},{"date":"2012-10","series":"dobre","value":37},{"date":"2012-11","series":"dobre","value":41},{"date":"2012-12","series":"dobre","value":39},
    {"date":"2013-01","series":"dobre","value":41},{"date":"2013-03","series":"dobre","value":40},{"date":"2013-04","series":"dobre","value":35},{"date":"2013-05","series":"dobre","value":41},{"date":"2013-06","series":"dobre","value":40},{"date":"2013-07","series":"dobre","value":42},{"date":"2013-09","series":"dobre","value":41},{"date":"2013-10","series":"dobre","value":42},{"date":"2013-11","series":"dobre","value":40},{"date":"2013-12","series":"dobre","value":43},
    {"date":"2014-01","series":"dobre","value":43},{"date":"2014-02","series":"dobre","value":41},{"date":"2014-03","series":"dobre","value":40},{"date":"2014-05","series":"dobre","value":47},{"date":"2014-06","series":"dobre","value":43},{"date":"2014-07","series":"dobre","value":50},{"date":"2014-08","series":"dobre","value":44},{"date":"2014-09","series":"dobre","value":44},{"date":"2014-10","series":"dobre","value":45},{"date":"2014-12","series":"dobre","value":43},
    {"date":"2015-01","series":"dobre","value":49},{"date":"2015-02","series":"dobre","value":46},{"date":"2015-03","series":"dobre","value":47},{"date":"2015-04","series":"dobre","value":44},{"date":"2015-05","series":"dobre","value":45},{"date":"2015-06","series":"dobre","value":44},{"date":"2015-07","series":"dobre","value":44},{"date":"2015-08","series":"dobre","value":48},{"date":"2015-09","series":"dobre","value":49},{"date":"2015-11","series":"dobre","value":50},{"date":"2015-12","series":"dobre","value":54},
    {"date":"2016-01","series":"dobre","value":52},{"date":"2016-02","series":"dobre","value":48},{"date":"2016-03","series":"dobre","value":51},{"date":"2016-04","series":"dobre","value":55},{"date":"2016-05","series":"dobre","value":50},{"date":"2016-06","series":"dobre","value":46},{"date":"2016-07","series":"dobre","value":51},{"date":"2016-08","series":"dobre","value":52},{"date":"2016-09","series":"dobre","value":55},{"date":"2016-10","series":"dobre","value":53},{"date":"2016-12","series":"dobre","value":58}
  ]},
  "layer": [
    {
      "transform": [{"filter": "datum.series == 'złe'"}],
      "mark": {"type": "line", "strokeWidth": 3.9, "strokeJoin": "round"},
      "encoding": {
        "x": {"field": "date", "type": "temporal",
              "scale": {"type": "utc", "domain": [{"year": 1987, "month": 4, "date": 1, "utc": true}, {"year": 2016, "month": 12, "date": 1, "utc": true}]},
              "axis": {"title": null, "tickCount": {"interval": "month", "step": 1}, "tickSize": 11, "tickColor": "black", "tickWidth": 1,
                       "domainColor": "black", "domainWidth": 1, "grid": false, "labelAngle": 0,
                       "labelExpr": "utcyear(datum.value) == 1987 && utcmonth(datum.value) == 3 ? ['IV', '1987'] : (utcyear(datum.value) == 1988 && utcmonth(datum.value) == 1 ? ['II', '1988'] : (utcyear(datum.value) >= 1989 && utcmonth(datum.value) == 0 ? ['I', '' + utcyear(datum.value)] : ''))",
                       "labelFont": "Liberation Sans", "labelFontSize": 12.5, "labelColor": "black", "labelPadding": 15, "labelLineHeight": 15,
                       "labelOverlap": false, "labelFlush": false, "labelBound": false}},
        "y": {"field": "value", "type": "quantitative",
              "scale": {"domain": [0, 60], "nice": false, "zero": true},
              "axis": {"title": null, "values": [0, 10, 20, 30, 40, 50, 60], "labelExpr": "datum.value + '%'",
                       "labelFont": "Liberation Sans", "labelFontSize": 17, "labelColor": "black", "labelPadding": 14,
                       "tickSize": 16, "tickColor": "black", "domainColor": "black", "domainWidth": 1,
                       "grid": true, "gridColor": "#222222", "gridDash": [10, 5], "gridWidth": 1, "gridOpacity": 1}},
        "color": {"field": "series", "type": "nominal", "legend": null,
                  "scale": {"domain": ["dobre", "ani dobre, ani złe", "złe"], "range": ["#24A84A", "#FAC000", "#D6544A"]}}
      }
    },
    {
      "transform": [{"filter": "datum.series == 'ani dobre, ani złe'"}],
      "mark": {"type": "line", "strokeWidth": 3.9, "strokeJoin": "round"},
      "encoding": {
        "x": {"field": "date", "type": "temporal"},
        "y": {"field": "value", "type": "quantitative"},
        "color": {"field": "series", "type": "nominal", "legend": null}
      }
    },
    {
      "transform": [{"filter": "datum.series == 'dobre'"}],
      "mark": {"type": "line", "strokeWidth": 3.9, "strokeJoin": "round"},
      "encoding": {
        "x": {"field": "date", "type": "temporal"},
        "y": {"field": "value", "type": "quantitative"},
        "color": {"field": "series", "type": "nominal", "legend": null}
      }
    },
    {
      "data": {"values": [{}]},
      "mark": {"type": "rule", "color": "black", "strokeWidth": 2, "clip": false},
      "encoding": {
        "x": {"datum": {"year": 1983, "month": 9, "date": 21, "utc": true}, "type": "temporal"},
        "x2": {"datum": {"year": 2020, "month": 1, "date": 1, "utc": true}},
        "y": {"datum": 83.48, "type": "quantitative"}
      }
    },
    {
      "data": {"values": [{}]},
      "mark": {"type": "rule", "color": "black", "strokeWidth": 2, "clip": false},
      "encoding": {
        "x": {"datum": {"year": 1983, "month": 9, "date": 21, "utc": true}, "type": "temporal"},
        "y": {"datum": 83.48, "type": "quantitative"},
        "y2": {"datum": -15}
      }
    },
    {
      "data": {"values": [{}]},
      "mark": {"type": "rect", "fill": "white", "stroke": "black", "strokeWidth": 2, "clip": false},
      "encoding": {
        "x": {"datum": {"year": 2015, "month": 11, "date": 3, "utc": true}, "type": "temporal"},
        "x2": {"datum": {"year": 2020, "month": 1, "date": 1, "utc": true}},
        "y": {"datum": 74.79, "type": "quantitative"},
        "y2": {"datum": 83.48}
      }
    },
    {
      "data": {"values": [{}]},
      "mark": {"type": "text", "font": "Liberation Serif", "fontSize": 32, "color": "black", "align": "center", "baseline": "middle", "clip": false},
      "encoding": {
        "x": {"datum": {"year": 2017, "month": 10, "date": 27, "utc": true}, "type": "temporal"},
        "y": {"datum": 79.14, "type": "quantitative"},
        "text": {"value": "CBOS"}
      }
    },
    {
      "data": {"values": [{}]},
      "mark": {"type": "text", "font": "Liberation Serif", "fontSize": 23.5, "color": "black", "align": "left", "baseline": "alphabetic", "clip": false},
      "encoding": {
        "x": {"datum": {"year": 1985, "month": 3, "date": 28, "utc": true}, "type": "temporal"},
        "y": {"datum": 68.41, "type": "quantitative"},
        "text": {"value": "RYS. 5."}
      }
    },
    {
      "data": {"values": [{}]},
      "mark": {"type": "rule", "color": "black", "strokeWidth": 1.5},
      "encoding": {
        "x": {"datum": {"year": 2016, "month": 12, "date": 1, "utc": true}, "type": "temporal"}
      }
    },
    {
      "data": {"values": [
        {"label": "ani dobre, ani złe", "date": "2007-06-01", "value": 52.1},
        {"label": "dobre", "date": "2014-07-12", "value": 55.8},
        {"label": "złe", "date": "2010-11-08", "value": 22.4}
      ]},
      "mark": {"type": "text", "font": "Liberation Sans", "fontSize": 25, "color": "black", "align": "center", "baseline": "middle"},
      "encoding": {
        "x": {"field": "date", "type": "temporal"},
        "y": {"field": "value", "type": "quantitative"},
        "text": {"field": "label"}
      }
    }
  ]
}
